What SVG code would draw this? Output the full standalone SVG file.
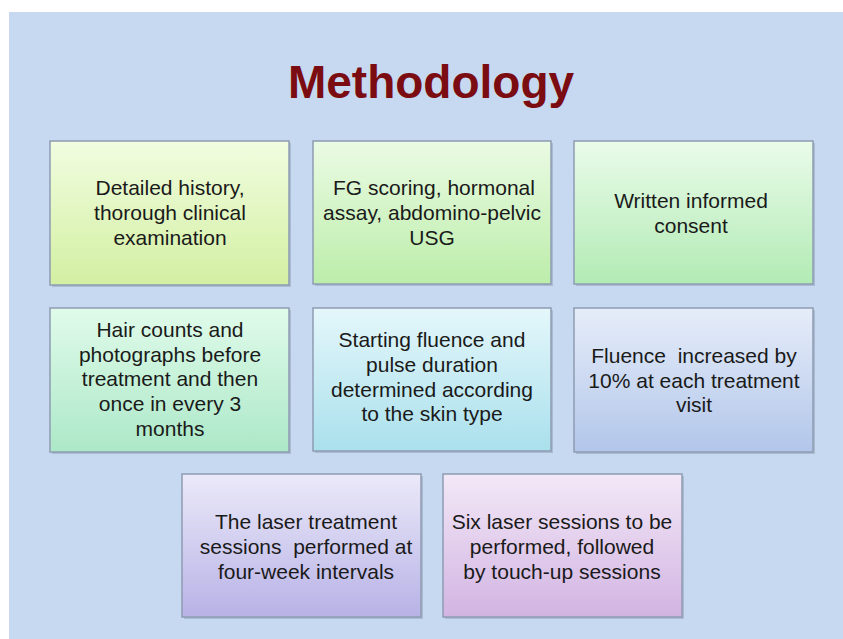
<svg xmlns="http://www.w3.org/2000/svg" width="843" height="639" viewBox="0 0 843 639">
<style>
.box{stroke:#8e9cb2;stroke-width:1.5}
.sh{fill:#8a98ae;opacity:0.45}
.t{font-family:"Liberation Sans",Arial,sans-serif;font-size:21px;fill:#1a1a1a;text-anchor:middle}
.title{font-family:"Liberation Sans",Arial,sans-serif;font-size:46px;font-weight:bold;fill:#7a0c12;text-anchor:middle}
</style>
<defs>
<linearGradient id="g1" x1="0" y1="0" x2="0" y2="1"><stop offset="0" stop-color="#f1fde0"/><stop offset="1" stop-color="#d3efa2"/></linearGradient>
<linearGradient id="g2" x1="0" y1="0" x2="0" y2="1"><stop offset="0" stop-color="#ebfbe4"/><stop offset="1" stop-color="#bcedaa"/></linearGradient>
<linearGradient id="g3" x1="0" y1="0" x2="0" y2="1"><stop offset="0" stop-color="#eafbea"/><stop offset="1" stop-color="#b2ebb4"/></linearGradient>
<linearGradient id="g4" x1="0" y1="0" x2="0" y2="1"><stop offset="0" stop-color="#e0fbea"/><stop offset="1" stop-color="#ace8c8"/></linearGradient>
<linearGradient id="g5" x1="0" y1="0" x2="0" y2="1"><stop offset="0" stop-color="#e4f7fb"/><stop offset="1" stop-color="#aae0ec"/></linearGradient>
<linearGradient id="g6" x1="0" y1="0" x2="0" y2="1"><stop offset="0" stop-color="#e6edf9"/><stop offset="1" stop-color="#b2c6ea"/></linearGradient>
<linearGradient id="g7" x1="0" y1="0" x2="0" y2="1"><stop offset="0" stop-color="#ebe9f9"/><stop offset="1" stop-color="#b8b2e6"/></linearGradient>
<linearGradient id="g8" x1="0" y1="0" x2="0" y2="1"><stop offset="0" stop-color="#f3e8f7"/><stop offset="1" stop-color="#d2b4e2"/></linearGradient>
</defs>
<rect x="0" y="0" width="843" height="639" fill="#ffffff"/>
<rect x="9" y="12" width="834" height="627" fill="#c6d9f0"/>
<text class="title" x="431" y="98">Methodology</text>

<g id="n1">
<rect class="sh" x="52" y="143" width="239" height="144"/>
<rect class="box" x="50" y="141" width="239" height="144" fill="url(#g1)"/>
<text class="t" x="170" y="195">Detailed history,</text>
<text class="t" x="170" y="220">thorough clinical</text>
<text class="t" x="170" y="245">examination</text>
</g>
<g id="n2">
<rect class="sh" x="315" y="143" width="238" height="143"/>
<rect class="box" x="313" y="141" width="238" height="143" fill="url(#g2)"/>
<text class="t" x="434" y="195">FG scoring, hormonal</text>
<text class="t" x="432" y="220">assay, abdomino-pelvic</text>
<text class="t" x="432" y="245">USG</text>
</g>
<g id="n3">
<rect class="sh" x="576" y="143" width="239" height="143"/>
<rect class="box" x="574" y="141" width="239" height="143" fill="url(#g3)"/>
<text class="t" x="691" y="208">Written informed</text>
<text class="t" x="691" y="233">consent</text>
</g>
<g id="n4">
<rect class="sh" x="52" y="310" width="239" height="144"/>
<rect class="box" x="50" y="308" width="239" height="144" fill="url(#g4)"/>
<text class="t" x="170" y="337">Hair counts and</text>
<text class="t" x="170" y="362">photographs before</text>
<text class="t" x="170" y="386">treatment and then</text>
<text class="t" x="170" y="411">once in every 3</text>
<text class="t" x="170" y="436">months</text>
</g>
<g id="n5">
<rect class="sh" x="315" y="310" width="238" height="143"/>
<rect class="box" x="313" y="308" width="238" height="143" fill="url(#g5)"/>
<text class="t" x="432" y="347">Starting fluence and</text>
<text class="t" x="432" y="372">pulse duration</text>
<text class="t" x="432" y="397">determined according</text>
<text class="t" x="432" y="421">to the skin type</text>
</g>
<g id="n6">
<rect class="sh" x="576" y="310" width="239" height="144"/>
<rect class="box" x="574" y="308" width="239" height="144" fill="url(#g6)"/>
<text class="t" x="694" y="363" xml:space="preserve">Fluence  increased by</text>
<text class="t" x="694" y="388">10% at each treatment</text>
<text class="t" x="694" y="412">visit</text>
</g>
<g id="n7">
<rect class="sh" x="184" y="476" width="239" height="143"/>
<rect class="box" x="182" y="474" width="239" height="143" fill="url(#g7)"/>
<text class="t" x="306" y="529">The laser treatment</text>
<text class="t" x="306" y="554" xml:space="preserve">sessions  performed at</text>
<text class="t" x="306" y="579">four-week intervals</text>
</g>
<g id="n8">
<rect class="sh" x="445" y="476" width="239" height="143"/>
<rect class="box" x="443" y="474" width="239" height="143" fill="url(#g8)"/>
<text class="t" x="562" y="529">Six laser sessions to be</text>
<text class="t" x="562" y="554">performed, followed</text>
<text class="t" x="562" y="579">by touch-up sessions</text>
</g>
<g id="connectors"/>
</svg>
